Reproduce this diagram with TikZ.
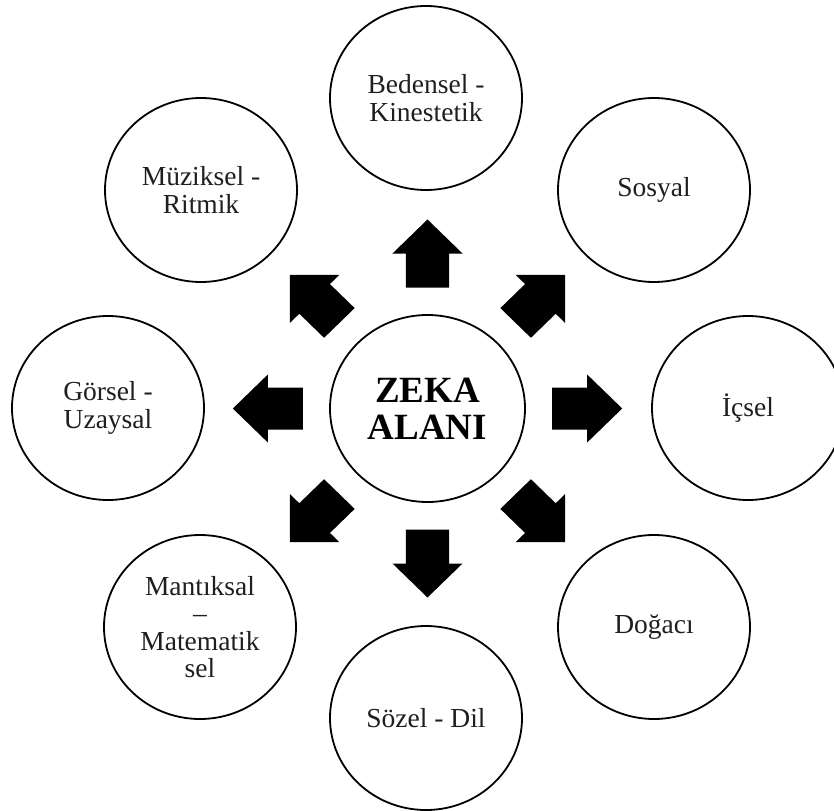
\documentclass[tikz,border=0pt]{standalone}
\usepackage{fontspec}
\setmainfont{Liberation Serif}
\usetikzlibrary{shapes.geometric}
\begin{document}
\begin{tikzpicture}[x=1pt,y=-1pt,
  ring/.style={draw, line width=1.8pt, ellipse, inner sep=0pt,
    minimum width=192pt, minimum height=184pt, align=center,
    text=black!88, font=\fontsize{27.5}{27.5}\selectfont},
  hub/.style={ring, minimum width=195pt, minimum height=187pt,
    text=black, font=\bfseries\fontsize{37}{37}\selectfont},
  blockarrow/.style={fill=black}]
\useasboundingbox (0,0) rectangle (834,810);
\fill[white] (0,0) rectangle (834,810);
\node[hub] (c) at (427.5,408.5) {ZEKA\\ALANI};
\node[ring] (bed) at (426,98) {Bedensel -\\Kinestetik};
\node[ring] (sos) at (654,190) {Sosyal};
\node[ring] (ics) at (748,408) {İçsel};
\node[ring] (dog) at (654,627) {Doğacı};
\node[ring] (soz) at (426,718) {Sözel - Dil};
\node[ring] (man) at (200,627) {Mantıksal\\–\\Matematik\\sel};
\node[ring] (gor) at (108,408) {Görsel -\\Uzaysal};
\node[ring] (muz) at (201,190) {Müziksel -\\Ritmik};
\foreach \a in {0,45,...,315} {
  \begin{scope}[shift={(c.center)}, xscale=1.03, rotate=\a]
    \fill[blockarrow] (121,-21) -- (155,-21) -- (155,-34) -- (189,0)
      -- (155,34) -- (155,21) -- (121,21) -- cycle;
  \end{scope}
}
\end{tikzpicture}
\end{document}
